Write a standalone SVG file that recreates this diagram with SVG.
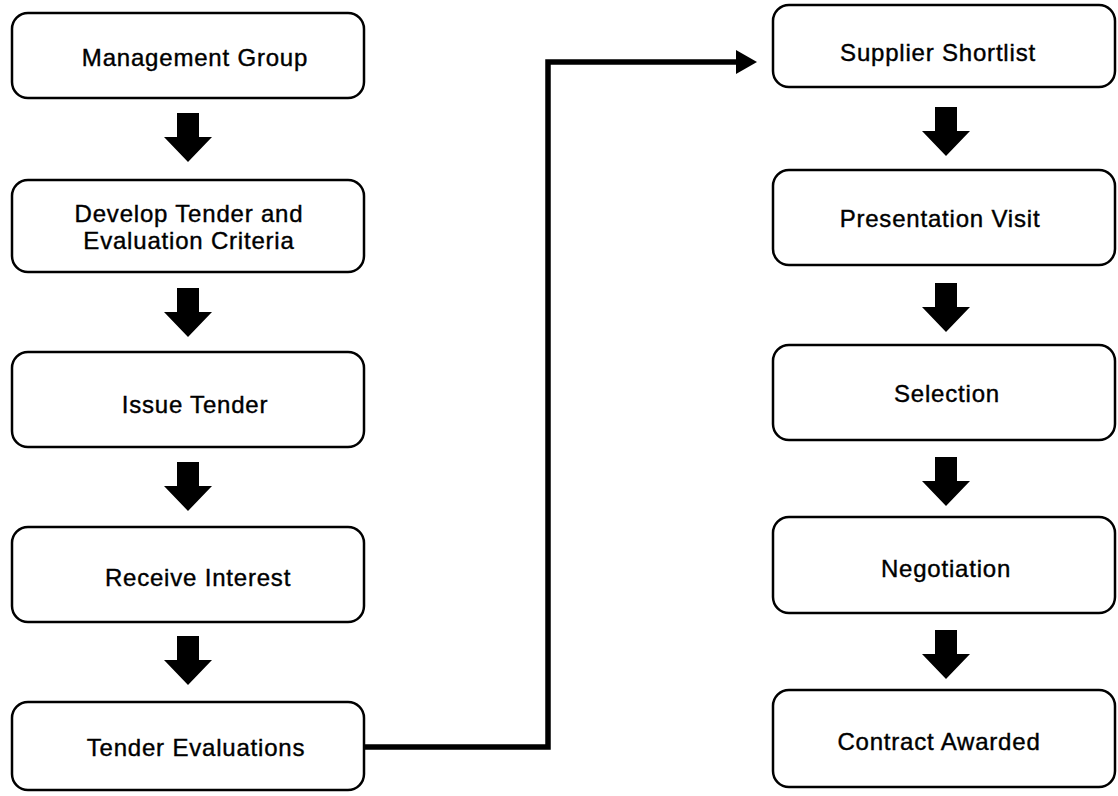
<svg xmlns="http://www.w3.org/2000/svg" width="1118" height="796" viewBox="0 0 1118 796">
<style>
.box{fill:#fff;stroke:#000;stroke-width:2.5}
.lbl{font-family:"Liberation Sans",Arial,sans-serif;font-size:24px;letter-spacing:0.8px;fill:#000;text-anchor:middle;stroke:#000;stroke-width:0.4}
.blk{fill:#000}
.conn{fill:none;stroke:#000;stroke-width:5.5}
</style>
<defs>
<marker id="ah" markerUnits="userSpaceOnUse" markerWidth="22" markerHeight="26" refX="1" refY="13" orient="auto">
<path d="M0,1 L21,13 L0,25 Z" fill="#000"/>
</marker>
<path id="down" d="M-11,0 H11 V24 H24 L0,49 L-24,24 H-11 Z"/>
</defs>
<rect width="1118" height="796" fill="#fff"/>
<g id="connectors">
<path class="conn" d="M364,747 H548 V62 H737" marker-end="url(#ah)"/>
<use href="#down" class="blk" x="188" y="113"/>
<use href="#down" class="blk" x="188" y="288"/>
<use href="#down" class="blk" x="188" y="462"/>
<use href="#down" class="blk" x="188" y="636"/>
<use href="#down" class="blk" x="946" y="107"/>
<use href="#down" class="blk" x="946" y="283"/>
<use href="#down" class="blk" x="946" y="457"/>
<use href="#down" class="blk" x="946" y="630"/>
</g>
<g id="n1"><rect class="box" x="12" y="13" width="352" height="85" rx="16"/><text class="lbl" x="195" y="66">Management Group</text></g>
<g id="n2"><rect class="box" x="12" y="180" width="352" height="92" rx="16"/><text class="lbl" x="189" y="222">Develop Tender and</text><text class="lbl" x="189" y="249">Evaluation Criteria</text></g>
<g id="n3"><rect class="box" x="12" y="352" width="352" height="95" rx="16"/><text class="lbl" x="195" y="413">Issue Tender</text></g>
<g id="n4"><rect class="box" x="12" y="527" width="352" height="95" rx="16"/><text class="lbl" x="198" y="586">Receive Interest</text></g>
<g id="n5"><rect class="box" x="12" y="702" width="352" height="88" rx="16"/><text class="lbl" x="196" y="756">Tender Evaluations</text></g>
<g id="n6"><rect class="box" x="773" y="5" width="342" height="82" rx="16"/><text class="lbl" x="938" y="61">Supplier Shortlist</text></g>
<g id="n7"><rect class="box" x="773" y="170" width="342" height="95" rx="16"/><text class="lbl" x="940" y="227">Presentation Visit</text></g>
<g id="n8"><rect class="box" x="773" y="345" width="342" height="95" rx="16"/><text class="lbl" x="947" y="402">Selection</text></g>
<g id="n9"><rect class="box" x="773" y="517" width="342" height="96" rx="16"/><text class="lbl" x="946" y="577">Negotiation</text></g>
<g id="n10"><rect class="box" x="773" y="690" width="342" height="97" rx="16"/><text class="lbl" x="939" y="750">Contract Awarded</text></g>
</svg>
